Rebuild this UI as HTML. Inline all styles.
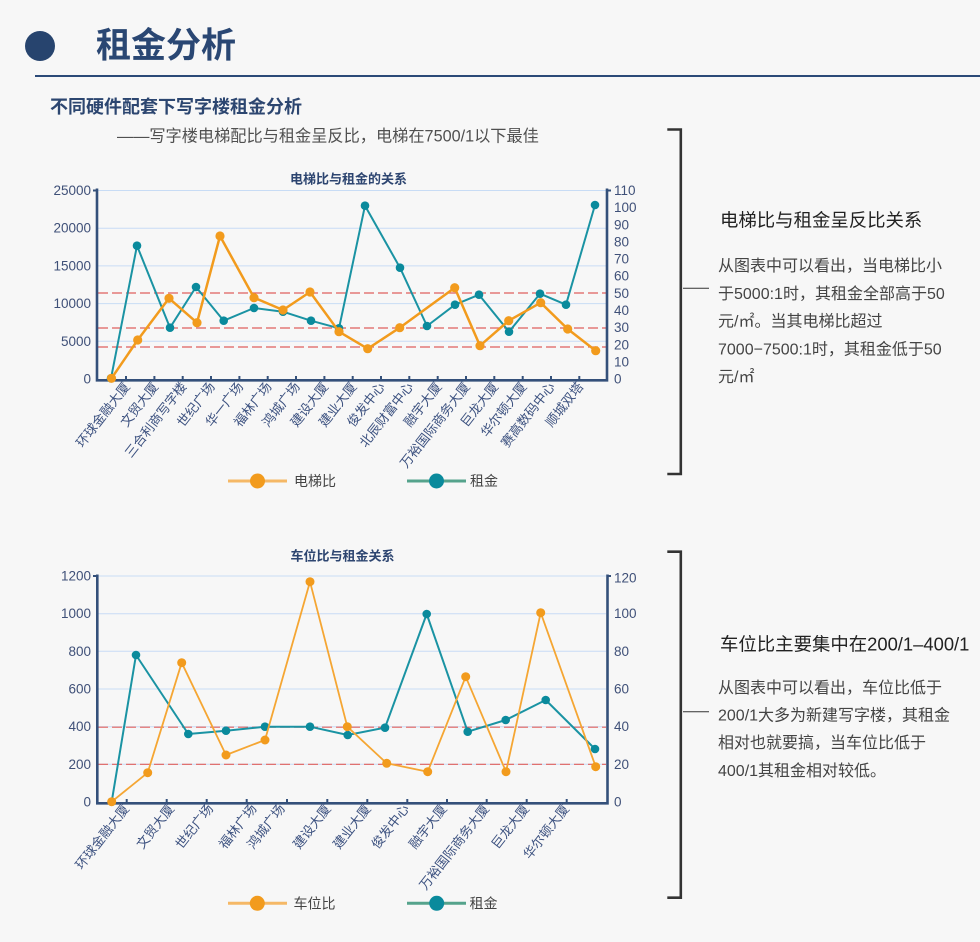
<!DOCTYPE html>
<html><head><meta charset="utf-8">
<style>
html,body{margin:0;padding:0;background:#f7f7f7;}
svg{display:block;font-family:"Liberation Sans","Noto Sans CJK SC",sans-serif;}
</style></head>
<body>
<svg width="980" height="942" viewBox="0 0 980 942" xmlns="http://www.w3.org/2000/svg">
<rect width="980" height="942" fill="#f7f7f7"/>

<!-- Header -->
<circle cx="40" cy="46" r="15" fill="#27446e"/>
<text x="96" y="46" font-size="35" font-weight="bold" fill="#2a4773" dominant-baseline="central">租金分析</text>
<rect x="35" y="75" width="945" height="2" fill="#2b4a78"/>
<text x="50" y="107" font-size="18" font-weight="bold" fill="#2c4670" dominant-baseline="central">不同硬件配套下写字楼租金分析</text>
<text x="117" y="136.5" font-size="16.2" fill="#505050" dominant-baseline="central">——写字楼电梯配比与租金呈反比，电梯在7500/1以下最佳</text>

<!-- ============ Chart 1 ============ -->
<text x="290" y="179" font-size="13" font-weight="bold" fill="#2d4570" dominant-baseline="central">电梯比与租金的关系</text>
<g stroke="#c8dcf5" stroke-width="1">
<line x1="98" y1="190.5" x2="606" y2="190.5"/>
<line x1="98" y1="228.2" x2="606" y2="228.2"/>
<line x1="98" y1="265.9" x2="606" y2="265.9"/>
<line x1="98" y1="303.6" x2="606" y2="303.6"/>
<line x1="98" y1="341.3" x2="606" y2="341.3"/>
</g>
<g stroke="#e0605e" stroke-width="1.2" stroke-dasharray="10 4">
<line x1="98" y1="293" x2="606" y2="293"/>
<line x1="98" y1="328" x2="606" y2="328"/>
<line x1="98" y1="347" x2="606" y2="347"/>
</g>
<g font-size="13.5" fill="#3f5078" dominant-baseline="central" text-anchor="end">
<text x="91" y="190.5">25000</text>
<text x="91" y="228.2">20000</text>
<text x="91" y="265.9">15000</text>
<text x="91" y="303.6">10000</text>
<text x="91" y="341.3">5000</text>
<text x="91" y="379">0</text>
</g>
<g font-size="13.5" fill="#3f5078" dominant-baseline="central">
<text x="614" y="190.5">110</text>
<text x="614" y="207.6">100</text>
<text x="614" y="224.8">90</text>
<text x="614" y="241.9">80</text>
<text x="614" y="259.1">70</text>
<text x="614" y="276.2">60</text>
<text x="614" y="293.3">50</text>
<text x="614" y="310.5">40</text>
<text x="614" y="327.6">30</text>
<text x="614" y="344.8">20</text>
<text x="614" y="361.9">10</text>
<text x="614" y="379">0</text>
</g>
<g stroke="#34507a" stroke-width="2">
<line x1="126" y1="376" x2="126" y2="379"/><line x1="154.4" y1="376" x2="154.4" y2="379"/>
<line x1="182.7" y1="376" x2="182.7" y2="379"/><line x1="211" y1="376" x2="211" y2="379"/>
<line x1="239.4" y1="376" x2="239.4" y2="379"/><line x1="267.7" y1="376" x2="267.7" y2="379"/>
<line x1="296" y1="376" x2="296" y2="379"/><line x1="324.4" y1="376" x2="324.4" y2="379"/>
<line x1="352.7" y1="376" x2="352.7" y2="379"/><line x1="381" y1="376" x2="381" y2="379"/>
<line x1="409.3" y1="376" x2="409.3" y2="379"/><line x1="437.7" y1="376" x2="437.7" y2="379"/>
<line x1="466" y1="376" x2="466" y2="379"/><line x1="494.3" y1="376" x2="494.3" y2="379"/>
<line x1="522.7" y1="376" x2="522.7" y2="379"/><line x1="551" y1="376" x2="551" y2="379"/>
<line x1="579.3" y1="376" x2="579.3" y2="379"/>
<line x1="93" y1="190.5" x2="97" y2="190.5"/><line x1="607" y1="190.5" x2="611" y2="190.5"/>
</g>
<g stroke="#34507a" stroke-width="2.6" fill="none">
<path d="M97,188.5 V380.3 H607 V188.5"/>
</g>
<!-- x labels chart1 -->
<g font-size="13" fill="#3d5280" text-anchor="end" dominant-baseline="central">
<text transform="translate(127,384) rotate(-52)">环球金融大厦</text>
<text transform="translate(155.4,384) rotate(-52)">文贸大厦</text>
<text transform="translate(183.7,384) rotate(-52)">三合利商写字楼</text>
<text transform="translate(212,384) rotate(-52)">世纪广场</text>
<text transform="translate(240.4,384) rotate(-52)">华一广场</text>
<text transform="translate(268.7,384) rotate(-52)">福林广场</text>
<text transform="translate(297,384) rotate(-52)">鸿城广场</text>
<text transform="translate(325.4,384) rotate(-52)">建设大厦</text>
<text transform="translate(353.7,384) rotate(-52)">建业大厦</text>
<text transform="translate(382,384) rotate(-52)">俊发中心</text>
<text transform="translate(410.3,384) rotate(-52)">北辰财富中心</text>
<text transform="translate(438.7,384) rotate(-52)">融宇大厦</text>
<text transform="translate(467,384) rotate(-52)">万裕国际商务大厦</text>
<text transform="translate(495.3,384) rotate(-52)">巨龙大厦</text>
<text transform="translate(523.7,384) rotate(-52)">华尔顿大厦</text>
<text transform="translate(552,384) rotate(-52)">赛高数码中心</text>
<text transform="translate(580.3,384) rotate(-52)">顺城双塔</text>
</g>
<!-- teal series chart1 -->
<polyline fill="none" stroke="#1a93a3" stroke-width="2" stroke-linejoin="round"
points="111,378.3 137,245.7 170,327.7 196,287 223.7,320.7 254,308 283,311.7 311,320.7 339,328.3 365,205.7 400,267.7 427,326 455,304.7 479,294.7 509,331.7 540,293.7 566,304.7 595,205"/>
<g fill="#0a8a9c">
<circle cx="111" cy="378.3" r="4.3"/><circle cx="137" cy="245.7" r="4.3"/><circle cx="170" cy="327.7" r="4.3"/>
<circle cx="196" cy="287" r="4.3"/><circle cx="223.7" cy="320.7" r="4.3"/><circle cx="254" cy="308" r="4.3"/>
<circle cx="283" cy="311.7" r="4.3"/><circle cx="311" cy="320.7" r="4.3"/><circle cx="339" cy="328.3" r="4.3"/>
<circle cx="365" cy="205.7" r="4.3"/><circle cx="400" cy="267.7" r="4.3"/><circle cx="427" cy="326" r="4.3"/>
<circle cx="455" cy="304.7" r="4.3"/><circle cx="479" cy="294.7" r="4.3"/><circle cx="509" cy="331.7" r="4.3"/>
<circle cx="540" cy="293.7" r="4.3"/><circle cx="566" cy="304.7" r="4.3"/><circle cx="595" cy="205" r="4.3"/>
</g>
<!-- orange series chart1 -->
<polyline fill="none" stroke="#f29b1d" stroke-width="2.5" stroke-linejoin="round"
points="111.5,378.3 137.7,340 169,298.3 197,322.7 220,236 254,297.7 283,310 310,292 339,331.7 367.7,348.7 399.7,327.7 454.7,287.7 480,345.7 508.7,320.7 540.7,302.7 567.7,329 595.7,350.7"/>
<g fill="#f29b1d">
<circle cx="111.5" cy="378.3" r="4.6"/><circle cx="137.7" cy="340" r="4.6"/><circle cx="169" cy="298.3" r="4.6"/>
<circle cx="197" cy="322.7" r="4.6"/><circle cx="220" cy="236" r="4.6"/><circle cx="254" cy="297.7" r="4.6"/>
<circle cx="283" cy="310" r="4.6"/><circle cx="310" cy="292" r="4.6"/><circle cx="339" cy="331.7" r="4.6"/>
<circle cx="367.7" cy="348.7" r="4.6"/><circle cx="399.7" cy="327.7" r="4.6"/><circle cx="454.7" cy="287.7" r="4.6"/>
<circle cx="480" cy="345.7" r="4.6"/><circle cx="508.7" cy="320.7" r="4.6"/><circle cx="540.7" cy="302.7" r="4.6"/>
<circle cx="567.7" cy="329" r="4.6"/><circle cx="595.7" cy="350.7" r="4.6"/>
</g>
<!-- legend chart1 -->
<line x1="228" y1="481" x2="287" y2="481" stroke="#f5b866" stroke-width="3"/>
<circle cx="257.5" cy="481" r="7.5" fill="#f29b1d"/>
<text x="294" y="481" font-size="14" fill="#444" dominant-baseline="central">电梯比</text>
<line x1="407" y1="481" x2="466" y2="481" stroke="#55a38c" stroke-width="3"/>
<circle cx="436.5" cy="481" r="7.5" fill="#0a8a9c"/>
<text x="470" y="481" font-size="14" fill="#444" dominant-baseline="central">租金</text>

<!-- right panel 1 -->
<path d="M667.3,129.5 H680.8 V474 H667.3" fill="none" stroke="#333" stroke-width="2.6"/>
<line x1="683" y1="288.3" x2="709" y2="288.3" stroke="#333" stroke-width="1"/>
<text x="720" y="220" font-size="18.4" fill="#222" dominant-baseline="central">电梯比与租金呈反比关系</text>
<g font-size="16" fill="#444" dominant-baseline="central">
<text x="718" y="266.7">从图表中可以看出，当电梯比小</text>
<text x="718" y="294.4">于5000:1时，其租金全部高于50</text>
<text x="718" y="322.1">元/㎡。当其电梯比超过</text>
<text x="718" y="349.8">7000−7500:1时，其租金低于50</text>
<text x="718" y="377.5">元/㎡</text>
</g>

<!-- ============ Chart 2 ============ -->
<text x="290.5" y="556" font-size="13" font-weight="bold" fill="#2d4570" dominant-baseline="central">车位比与租金关系</text>
<g stroke="#c8dcf5" stroke-width="1">
<line x1="98" y1="576" x2="606" y2="576"/>
<line x1="98" y1="613.7" x2="606" y2="613.7"/>
<line x1="98" y1="651.3" x2="606" y2="651.3"/>
<line x1="98" y1="689" x2="606" y2="689"/>
<line x1="98" y1="726.7" x2="606" y2="726.7"/>
<line x1="98" y1="764.3" x2="606" y2="764.3"/>
</g>
<g stroke="#e0605e" stroke-width="1.2" stroke-dasharray="10 4">
<line x1="98" y1="727.2" x2="606" y2="727.2"/>
<line x1="98" y1="764.3" x2="606" y2="764.3"/>
</g>
<g font-size="13.5" fill="#3f5078" dominant-baseline="central" text-anchor="end">
<text x="91" y="576">1200</text>
<text x="91" y="613.7">1000</text>
<text x="91" y="651.3">800</text>
<text x="91" y="689">600</text>
<text x="91" y="726.7">400</text>
<text x="91" y="764.3">200</text>
<text x="91" y="802">0</text>
</g>
<g font-size="13.5" fill="#3f5078" dominant-baseline="central">
<text x="614" y="578">120</text>
<text x="614" y="613.7">100</text>
<text x="614" y="651.3">80</text>
<text x="614" y="689">60</text>
<text x="614" y="726.7">40</text>
<text x="614" y="764.3">20</text>
<text x="614" y="802">0</text>
</g>
<g stroke="#34507a" stroke-width="2">
<line x1="126.7" y1="799" x2="126.7" y2="802"/><line x1="166.7" y1="799" x2="166.7" y2="802"/>
<line x1="206.7" y1="799" x2="206.7" y2="802"/><line x1="246.7" y1="799" x2="246.7" y2="802"/>
<line x1="287" y1="799" x2="287" y2="802"/><line x1="327.3" y1="799" x2="327.3" y2="802"/>
<line x1="367.3" y1="799" x2="367.3" y2="802"/><line x1="407.3" y1="799" x2="407.3" y2="802"/>
<line x1="447" y1="799" x2="447" y2="802"/><line x1="486.7" y1="799" x2="486.7" y2="802"/>
<line x1="526.7" y1="799" x2="526.7" y2="802"/><line x1="566.7" y1="799" x2="566.7" y2="802"/>
<line x1="93" y1="576" x2="97" y2="576"/><line x1="607" y1="576" x2="611" y2="576"/>
</g>
<path d="M97.3,574.5 V803.3 H607.5 V574.5" fill="none" stroke="#34507a" stroke-width="2.6"/>
<g font-size="13" fill="#3d5280" text-anchor="end" dominant-baseline="central">
<text transform="translate(126.2,806) rotate(-52)">环球金融大厦</text>
<text transform="translate(171.2,806) rotate(-52)">文贸大厦</text>
<text transform="translate(210.3,806) rotate(-52)">世纪广场</text>
<text transform="translate(253.7,806) rotate(-52)">福林广场</text>
<text transform="translate(282,806) rotate(-52)">鸿城广场</text>
<text transform="translate(327.8,806) rotate(-52)">建设大厦</text>
<text transform="translate(367.8,806) rotate(-52)">建业大厦</text>
<text transform="translate(406.2,806) rotate(-52)">俊发中心</text>
<text transform="translate(443.8,806) rotate(-52)">融宇大厦</text>
<text transform="translate(486.2,806) rotate(-52)">万裕国际商务大厦</text>
<text transform="translate(526.2,806) rotate(-52)">巨龙大厦</text>
<text transform="translate(566.2,806) rotate(-52)">华尔顿大厦</text>
</g>
<!-- teal series chart2 -->
<polyline fill="none" stroke="#1a93a3" stroke-width="2" stroke-linejoin="round"
points="111.7,801.7 136,655 188.3,734 226,730.7 265,726.7 310,726.7 347.7,735 385,727.7 426.7,614 467.7,731.7 505.7,720 545.7,700 595,749"/>
<g fill="#0a8a9c">
<circle cx="111.7" cy="801.7" r="4.3"/><circle cx="136" cy="655" r="4.3"/><circle cx="188.3" cy="734" r="4.3"/>
<circle cx="226" cy="730.7" r="4.3"/><circle cx="265" cy="726.7" r="4.3"/><circle cx="310" cy="726.7" r="4.3"/>
<circle cx="347.7" cy="735" r="4.3"/><circle cx="385" cy="727.7" r="4.3"/><circle cx="426.7" cy="614" r="4.3"/>
<circle cx="467.7" cy="731.7" r="4.3"/><circle cx="505.7" cy="720" r="4.3"/><circle cx="545.7" cy="700" r="4.3"/>
<circle cx="595" cy="749" r="4.3"/>
</g>
<!-- orange series chart2 -->
<polyline fill="none" stroke="#f5a633" stroke-width="1.8" stroke-linejoin="round"
points="111.7,801.7 147.7,772.7 181.7,662.7 226,755 265,740 310,581.7 347.3,726.7 386.7,763.3 427.7,771.7 465.7,676.7 506,771.7 540.7,612.7 595.7,766.7"/>
<g fill="#f29b1d">
<circle cx="111.7" cy="801.7" r="4.5"/><circle cx="147.7" cy="772.7" r="4.5"/><circle cx="181.7" cy="662.7" r="4.5"/>
<circle cx="226" cy="755" r="4.5"/><circle cx="265" cy="740" r="4.5"/><circle cx="310" cy="581.7" r="4.5"/>
<circle cx="347.3" cy="726.7" r="4.5"/><circle cx="386.7" cy="763.3" r="4.5"/><circle cx="427.7" cy="771.7" r="4.5"/>
<circle cx="465.7" cy="676.7" r="4.5"/><circle cx="506" cy="771.7" r="4.5"/><circle cx="540.7" cy="612.7" r="4.5"/>
<circle cx="595.7" cy="766.7" r="4.5"/>
</g>
<!-- legend chart2 -->
<line x1="228" y1="903.3" x2="287" y2="903.3" stroke="#f5b866" stroke-width="3"/>
<circle cx="257.3" cy="903.3" r="7.5" fill="#f29b1d"/>
<text x="293.5" y="903.3" font-size="14" fill="#444" dominant-baseline="central">车位比</text>
<line x1="407" y1="903.3" x2="466" y2="903.3" stroke="#55a38c" stroke-width="3"/>
<circle cx="436.7" cy="903.3" r="7.5" fill="#0a8a9c"/>
<text x="469.5" y="903.3" font-size="14" fill="#444" dominant-baseline="central">租金</text>

<!-- right panel 2 -->
<path d="M667.3,551.7 H680.8 V897.7 H667.3" fill="none" stroke="#333" stroke-width="2.6"/>
<line x1="683" y1="711.7" x2="709" y2="711.7" stroke="#333" stroke-width="1"/>
<text x="720" y="644" font-size="18.4" fill="#222" dominant-baseline="central">车位比主要集中在200/1–400/1</text>
<g font-size="16" fill="#444" dominant-baseline="central">
<text x="718" y="688.3">从图表中可以看出，车位比低于</text>
<text x="718" y="716">200/1大多为新建写字楼，其租金</text>
<text x="718" y="743.7">相对也就要搞，当车位比低于</text>
<text x="718" y="771.4">400/1其租金相对较低。</text>
</g>
</svg>
</body></html>
